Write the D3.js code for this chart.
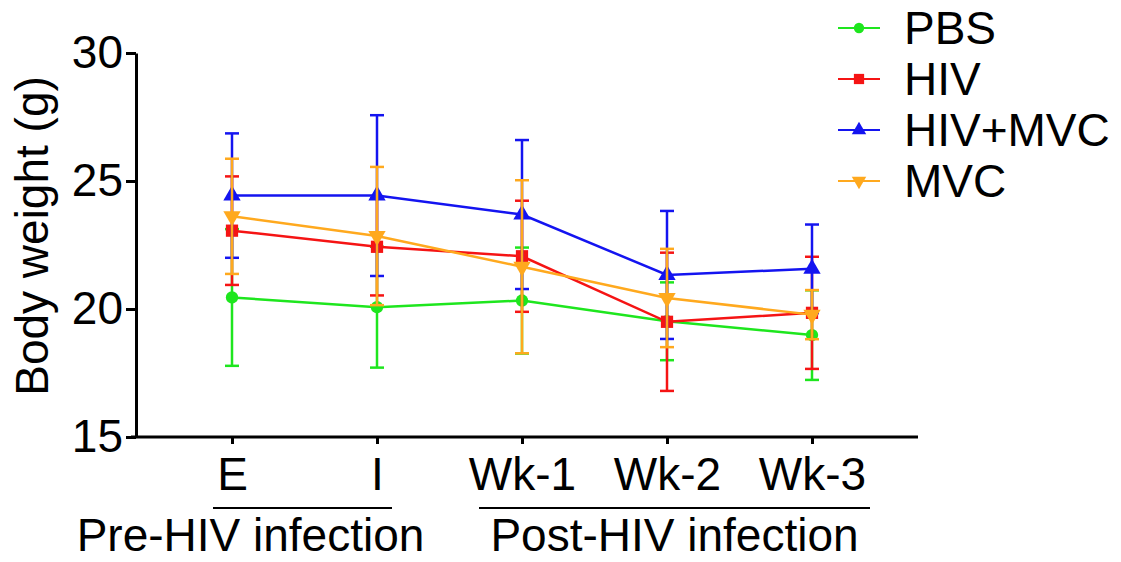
<!DOCTYPE html>
<html><head><meta charset="utf-8">
<script src="https://cdn.jsdelivr.net/npm/d3@7"></script>
<style>body{margin:0;background:#fff}svg{display:block}text{font-family:"Liberation Sans",Arial,sans-serif;fill:#000}</style>
</head><body>
<svg id="c" width="1121" height="562"></svg>
<script>
const categories = ["E","I","Wk-1","Wk-2","Wk-3"];
const seriesNames = ["PBS","HIV","HIV+MVC","MVC"];
const pbsMean = [20.45, 20.07, 20.33, 19.52, 18.98];
const pbsSD   = [2.67, 2.36, 2.07, 1.52, 1.75];
const hivMean = [23.06, 22.43, 22.06, 19.50, 19.85];
const hivSD   = [2.12, 1.90, 2.17, 2.70, 2.19];
const hivMvcMean = [24.43, 24.43, 23.69, 21.33, 21.57];
const hivMvcSD   = [2.43, 3.14, 2.91, 2.50, 1.73];
const mvcMean = [23.62, 22.85, 21.65, 20.43, 19.78];
const mvcSD   = [2.25, 2.70, 3.38, 1.92, 0.96];
const yTicks = [15, 20, 25, 30];
const groupLabels = ["Pre-HIV infection", "Post-HIV infection"];
const groupSpans = [["E","I"],["Wk-1","Wk-3"]];
const yLabel = "Body weight (g)";

const colors = ["#1ee61e", "#f51414", "#1414f0", "#ffa91e"];
const symbols = [d3.symbolCircle, d3.symbolSquare, d3.symbolTriangle, d3.symbolTriangle];
const rotations = [0, 0, 0, 180];
const markerSizes = [120, 150, 130, 130];
const means = [pbsMean, hivMean, hivMvcMean, mvcMean];
const sds = [pbsSD, hivSD, hivMvcSD, mvcSD];

const svg = d3.select("#c");
const x = d3.scalePoint().domain(categories).range([232, 812]);
const y = d3.scaleLinear().domain([15, 30]).range([437, 53]);
const FS = 46;

// Y axis
const yAxis = svg.append("g").attr("transform", "translate(136,0)")
  .call(d3.axisLeft(y).tickValues(yTicks).tickSize(10).tickSizeOuter(0).tickPadding(3));
yAxis.select(".domain").attr("stroke", "#000").attr("stroke-width", 3);
yAxis.selectAll(".tick line").attr("stroke", "#000").attr("stroke-width", 3);
yAxis.selectAll(".tick text").attr("font-size", FS).attr("font-family", "Liberation Sans, Arial, sans-serif").attr("fill", "#000");

// X axis
const xAxis = svg.append("g").attr("transform", "translate(0,437)")
  .call(d3.axisBottom(x).tickSize(7).tickPadding(13));
xAxis.select(".domain").remove();
xAxis.selectAll(".tick line").attr("stroke", "#000").attr("stroke-width", 3);
xAxis.selectAll(".tick text").attr("font-size", FS).attr("font-family", "Liberation Sans, Arial, sans-serif").attr("fill", "#000");
svg.append("line").attr("x1", 131).attr("x2", 918).attr("y1", 437).attr("y2", 437)
  .attr("stroke", "#000").attr("stroke-width", 3);

// group underlines and labels
groupSpans.forEach((s, i) => {
  const x1 = x(s[0]) - (i === 0 ? 19 : 43);
  const x2 = x(s[1]) + (i === 0 ? 15 : 58);
  svg.append("line").attr("x1", x1).attr("x2", x2).attr("y1", 508).attr("y2", 508)
    .attr("stroke", "#000").attr("stroke-width", 2);
  svg.append("text").attr("x", (x1 + x2) / 2 + (i === 0 ? -52 : 0)).attr("y", 551)
    .attr("text-anchor", "middle").attr("font-size", FS).text(groupLabels[i]);
});

// Y label
svg.append("text").attr("transform", "translate(48,236) rotate(-90)")
  .attr("text-anchor", "middle").attr("font-size", FS).text(yLabel);

// series
const line = d3.line().x((d, i) => x(categories[i])).y(d => y(d));
seriesNames.forEach((name, s) => {
  const g = svg.append("g");
  const c = colors[s];
  g.append("path").datum(means[s]).attr("d", line).attr("fill", "none")
    .attr("stroke", c).attr("stroke-width", 2.5);
  means[s].forEach((m, i) => {
    const cx = x(categories[i]);
    const lo = y(m - sds[s][i]), hi = y(m + sds[s][i]);
    g.append("line").attr("x1", cx).attr("x2", cx).attr("y1", lo).attr("y2", hi)
      .attr("stroke", c).attr("stroke-width", 2.5);
    [lo, hi].forEach(yy => g.append("line").attr("x1", cx - 7).attr("x2", cx + 7)
      .attr("y1", yy).attr("y2", yy).attr("stroke", c).attr("stroke-width", 2.5));
    g.append("path").attr("d", d3.symbol().type(symbols[s]).size(markerSizes[s])())
      .attr("transform", `translate(${cx},${y(m)}) rotate(${rotations[s]})`)
      .attr("fill", c);
  });
});

// legend
seriesNames.forEach((name, s) => {
  const ly = 28 + s * 51;
  const g = svg.append("g");
  g.append("line").attr("x1", 838).attr("x2", 880).attr("y1", ly).attr("y2", ly)
    .attr("stroke", colors[s]).attr("stroke-width", 2);
  g.append("path").attr("d", d3.symbol().type(symbols[s]).size(markerSizes[s] * 0.7)())
    .attr("transform", `translate(859,${ly}) rotate(${rotations[s]})`).attr("fill", colors[s]);
  g.append("text").attr("x", 904).attr("y", ly + 16).attr("font-size", FS).text(name);
});
</script>
</body></html>
